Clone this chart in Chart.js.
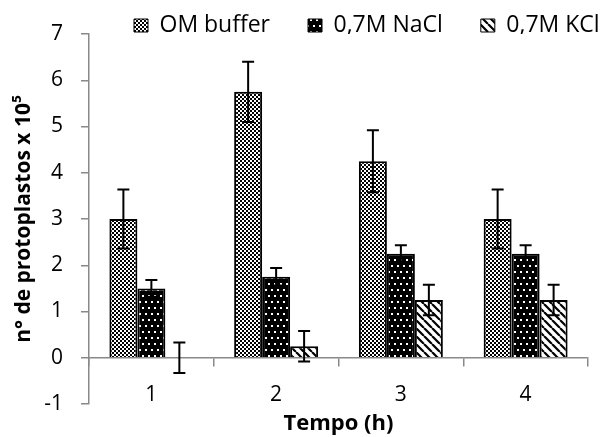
<!DOCTYPE html>
<html>
<head>
<meta charset="utf-8">
<script src="https://cdn.jsdelivr.net/npm/chart.js@4"></script>
<style>
  html, body { margin: 0; padding: 0; background: #fff; }
  #wrap { width: 600px; height: 437px; }
</style>
</head>
<body>
<div id="wrap"><canvas id="chart"></canvas></div>
<script>
// values
const categories = ['1', '2', '3', '4'];
const seriesNames = ['OM buffer', '0,7M NaCl', '0,7M KCl'];
const omBuffer = [3, 5.75, 4.25, 3];
const omBufferErr = [0.64, 0.65, 0.67, 0.64];
const naCl = [1.5, 1.75, 2.25, 2.25];
const naClErr = [0.18, 0.19, 0.18, 0.18];
const kCl = [0, 0.25, 1.25, 1.25];
const kClErr = [0.33, 0.33, 0.33, 0.33];

const FONT = "'Open Sans', sans-serif";
const AXIS_GREY = '#898989';

const ctx = document.getElementById('chart').getContext('2d');

function makePattern(size, draw) {
    const c = document.createElement('canvas');
    c.width = c.height = size;
    draw(c.getContext('2d'), size);
    return ctx.createPattern(c, 'repeat');
}

// fine checkerboard
const checkerFill = makePattern(4, (g) => {
    g.fillStyle = '#fff'; g.fillRect(0, 0, 4, 4);
    g.fillStyle = '#000'; g.fillRect(0, 0, 2, 2); g.fillRect(2, 2, 2, 2);
});
// black with white dots
const dotFill = makePattern(12, (g) => {
    g.fillStyle = '#000'; g.fillRect(0, 0, 12, 12);
    g.fillStyle = '#fff';
    g.fillRect(1, 1, 2, 2); g.fillRect(7, 1, 2, 2);
    g.fillRect(4, 7, 2, 2); g.fillRect(10, 7, 2, 2);
});
// wide downward diagonal stripes
const stripeFill = makePattern(8, (g, s) => {
    g.fillStyle = '#fff'; g.fillRect(0, 0, s, s);
    g.strokeStyle = '#000'; g.lineWidth = 2.2;
    g.beginPath();
    for (const o of [-s, 0, s]) { g.moveTo(o, 0); g.lineTo(o + s, s); }
    g.stroke();
});

// draw error bars from each dataset's errors
const errorBars = {
    id: 'errorBars',
    afterDatasetsDraw(chart) {
        const c = chart.ctx;
        const y = chart.scales.y;
        c.save();
        c.strokeStyle = '#000';
        c.lineWidth = 2;
        chart.data.datasets.forEach((ds, di) => {
            chart.getDatasetMeta(di).data.forEach((bar, i) => {
                const top = y.getPixelForValue(ds.data[i] + ds.errors[i]);
                const bot = y.getPixelForValue(ds.data[i] - ds.errors[i]);
                c.beginPath();
                c.moveTo(bar.x, top); c.lineTo(bar.x, bot);
                c.moveTo(bar.x - 6, top); c.lineTo(bar.x + 6, top);
                c.moveTo(bar.x - 6, bot); c.lineTo(bar.x + 6, bot);
                c.stroke();
            });
        });
        c.restore();
    }
};

// keep the legend row thin and put it where the reference has it
const legendPlace = {
    id: 'legendPlace',
    beforeLayout(chart) {
        const lg = chart.legend;
        if (lg && !lg._patched) {
            const fit = lg.fit;
            lg.fit = function () { fit.call(this); this.height = 34; };
            lg._patched = true;
        }
    },
    afterLayout(chart) {
        const lg = chart.legend;
        const pad = lg.options.labels.padding;
        lg.left = 134 - pad;
        lg.right = 800;
        lg.top = 14 - pad;
    }
};

new Chart(ctx, {
    type: 'bar',
    data: {
        labels: categories,
        datasets: [
            { label: seriesNames[0], data: omBuffer, errors: omBufferErr, backgroundColor: checkerFill },
            { label: seriesNames[1], data: naCl, errors: naClErr, backgroundColor: dotFill },
            { label: seriesNames[2], data: kCl, errors: kClErr, backgroundColor: stripeFill }
        ].map(d => Object.assign(d, {
            borderColor: '#000',
            borderWidth: 2,
            barPercentage: 1,
            categoryPercentage: 0.673
        }))
    },
    options: {
        responsive: true,
        maintainAspectRatio: false,
        animation: false,
        devicePixelRatio: 1,
        layout: { padding: { left: 0, right: 12, top: 0, bottom: 33 } },
        plugins: {
            legend: {
                align: 'start',
                labels: {
                    color: '#000',
                    font: { family: FONT, size: 23 },
                    boxWidth: 14,
                    boxHeight: 13,
                    padding: 38,
                    generateLabels(chart) {
                        const items = Chart.defaults.plugins.legend.labels.generateLabels(chart);
                        items.forEach(it => { it.lineWidth = 1; });
                        return items;
                    }
                }
            },
            tooltip: { enabled: false }
        },
        scales: {
            x: {
                position: { y: 0 },
                grid: { offset: true, drawOnChartArea: false, tickLength: 8, color: AXIS_GREY, lineWidth: 1.5 },
                border: { color: AXIS_GREY, width: 1.5 },
                ticks: { color: '#000', font: { family: FONT, size: 21 }, padding: 17 },
                title: {
                    display: true,
                    text: 'Tempo (h)',
                    color: '#000',
                    font: { family: FONT, size: 22, weight: 'bold' },
                    padding: { top: -14, bottom: 0 }
                }
            },
            y: {
                min: -1,
                max: 7,
                grid: { drawOnChartArea: false, tickLength: 8, color: AXIS_GREY, lineWidth: 1.5 },
                border: { color: AXIS_GREY, width: 1.5 },
                ticks: { stepSize: 1, color: '#000', font: { family: FONT, size: 21 }, padding: 18 },
                title: {
                    display: true,
                    text: 'n° de protoplastos x 10⁵',
                    color: '#000',
                    font: { family: FONT, size: 21, weight: 'bold' },
                    padding: { top: 11, bottom: 0 }
                },
                afterFit(scale) { scale.width = 89; }
            }
        }
    },
    plugins: [errorBars, legendPlace]
});
</script>
</body>
</html>
